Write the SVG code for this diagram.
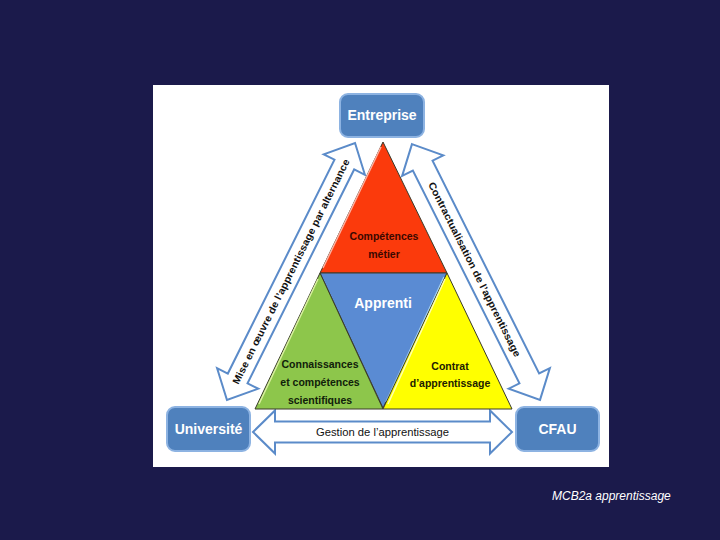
<svg xmlns="http://www.w3.org/2000/svg" width="720" height="540" viewBox="0 0 720 540">
<defs>
<style>
.box{fill:#4f81bd;stroke:#8db3e2;stroke-width:2}
.btxt{font-family:"Liberation Sans",Arial,sans-serif;font-weight:bold;fill:#fff;text-anchor:middle}
.arr{fill:#fff;stroke:#5b8bc9;stroke-width:2;stroke-linejoin:miter}
.atxt{font-family:"Liberation Sans",Arial,sans-serif;font-weight:bold;font-size:10px;fill:#111;text-anchor:middle}
.tri{stroke:#3a3a2a;stroke-width:1;stroke-linejoin:round}
.ttxt{font-family:"Liberation Sans",Arial,sans-serif;font-weight:bold;font-size:10.5px;text-anchor:middle}
</style>
</defs>
<rect width="720" height="540" fill="#1b1a4b"/>
<rect x="153" y="85" width="456" height="382" fill="#fff"/>

<g id="connectors">
  <g id="arrow-left" transform="translate(291 271.5) rotate(-63.5)">
    <polygon class="arr" points="-143.5,0 -119.5,-23 -119.5,-11 119.5,-11 119.5,-23 143.5,0 119.5,23 119.5,11 -119.5,11 -119.5,23"/>
    <text class="atxt" x="0" y="3.5" textLength="250" lengthAdjust="spacingAndGlyphs">Mise en œuvre de l’apprentissage par alternance</text>
  </g>
  <g id="arrow-right" transform="translate(476 272) rotate(63.4)">
    <polygon class="arr" points="-143,0 -119,-23 -119,-11 119,-11 119,-23 143,0 119,23 119,11 -119,11 -119,23"/>
    <text class="atxt" x="-3" y="3.5" textLength="194" lengthAdjust="spacingAndGlyphs">Contractualisation de l’apprentissage</text>
  </g>
  <g id="arrow-bottom" transform="translate(382.5 432)">
    <polygon class="arr" points="-129.5,0 -107.5,-21.5 -107.5,-10.5 107.5,-10.5 107.5,-21.5 129.5,0 107.5,21.5 107.5,10.5 -107.5,10.5 -107.5,21.5"/>
    <text x="0" y="4" font-family="Liberation Sans,Arial,sans-serif" font-size="10.5" fill="#111" text-anchor="middle" textLength="133" lengthAdjust="spacingAndGlyphs">Gestion de l’apprentissage</text>
  </g>
</g>

<g id="competences-metier">
  <polygon class="tri" points="383,142 320,273 447,273" fill="#fb3a0c"/>
  <line x1="381" y1="147" x2="323" y2="268" stroke="#ffb0a0" stroke-width="1.5"/>
  <text class="ttxt" x="384" y="240" fill="#3a0800">Compétences</text>
  <text class="ttxt" x="384" y="258" fill="#3a0800">métier</text>
</g>
<g id="apprenti">
  <polygon class="tri" points="320,273 447,273 383,408" fill="#5a8bd3"/>
  <line x1="444" y1="277" x2="386" y2="402" stroke="#a6d4f5" stroke-width="1.5"/>
  <text class="btxt" x="383" y="308" font-size="14">Apprenti</text>
</g>
<g id="connaissances">
  <polygon class="tri" points="320,273 255,409 383,409" fill="#8dc64b"/>
  <line x1="318" y1="279" x2="259" y2="404" stroke="#d9f0a0" stroke-width="1.5"/>
  <text class="ttxt" x="320" y="368" fill="#10200a">Connaissances</text>
  <text class="ttxt" x="320" y="386" fill="#10200a">et compétences</text>
  <text class="ttxt" x="320" y="404" fill="#10200a">scientifiques</text>
</g>
<g id="contrat">
  <polygon class="tri" points="447,273 383,409 512,409" fill="#ffff00"/>
  <line x1="445" y1="279" x2="388" y2="404" stroke="#ffffb0" stroke-width="1.5"/>
  <text class="ttxt" x="450" y="370" fill="#202000">Contrat</text>
  <text class="ttxt" x="450" y="387" fill="#202000">d’apprentissage</text>
</g>

<g id="entreprise">
  <rect class="box" x="340" y="94" width="84" height="43" rx="8"/>
  <text class="btxt" x="382" y="120" font-size="14">Entreprise</text>
</g>
<g id="universite">
  <rect class="box" x="167" y="407" width="83" height="44" rx="8"/>
  <text class="btxt" x="208.5" y="434" font-size="14">Université</text>
</g>
<g id="cfau">
  <rect class="box" x="516" y="407" width="83" height="44" rx="8"/>
  <text class="btxt" x="557.5" y="434" font-size="14">CFAU</text>
</g>

<text x="552" y="500" font-family="Liberation Sans,Arial,sans-serif" font-style="italic" font-size="12" fill="#fff">MCB2a apprentissage</text>
</svg>
